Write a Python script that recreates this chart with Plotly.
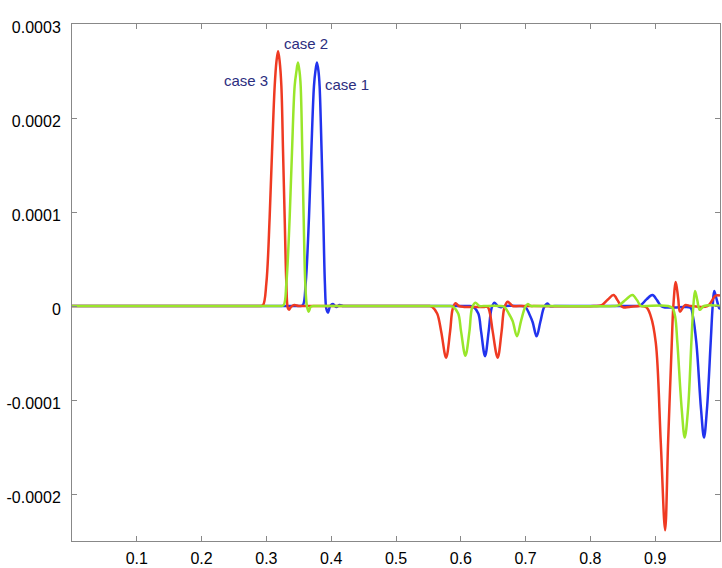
import plotly.graph_objects as go

# values in units of 1e-6
UNIT = 1e-6

case1_x = [0, 0.34, 0.352, 0.3564, 0.3606, 0.3657, 0.3693, 0.3734, 0.3755, 0.378, 0.3805, 0.3821, 0.3852, 0.3878, 0.3903,
           0.3925, 0.3949, 0.3985, 0.4027, 0.4078, 0.413, 0.4185, 0.43,
           0.60, 0.612, 0.6195, 0.627, 0.6313, 0.6374, 0.643, 0.6476, 0.6518, 0.6569, 0.662, 0.668, 0.69,
           0.6995, 0.706, 0.7108, 0.717, 0.7227, 0.7288, 0.7339, 0.7376, 0.745,
           0.86, 0.871, 0.8778, 0.8865, 0.8957, 0.903, 0.909, 0.915, 0.93, 0.945, 0.9547, 0.9582, 0.9635,
           0.9707, 0.9753, 0.9799, 0.9856, 0.9887, 0.9911, 0.9945, 0.9989, 1.0]
case1_y = [0, 0, 0, 1, 24, 94, 164, 234, 249, 259, 249, 234, 164, 94, 24,
           -3, -7, 0, 2, -1, 1, 0, 0,
           0, 0, -1, -8, -27, -53.4, -27, -2, 3.5, 0, -1.2, 0, 0,
           -1, -9, -17, -32.3, -17, -1, 2.7, 0, 0,
           0, 0, 1, 7, 11.6, 6, 0, -1.5, -1.5, -1, -2, -11, -39,
           -109.5, -140, -109.5, -39, 0, 16, 8, -2.5, -3]

case2_x = [0, 0.31, 0.322, 0.3267, 0.3308, 0.3359, 0.3395, 0.3436, 0.3462, 0.3487, 0.3512, 0.3529, 0.3554, 0.3575, 0.36,
           0.3625, 0.3652, 0.3683, 0.373, 0.38,
           0.575, 0.583, 0.5885, 0.596, 0.6004, 0.6071, 0.6133, 0.6174, 0.6225, 0.6287, 0.635,
           0.66, 0.6672, 0.674, 0.68, 0.6867, 0.6929, 0.6995, 0.7031, 0.7083, 0.715,
           0.835, 0.8444, 0.855, 0.8649, 0.872, 0.8778, 0.885, 0.92, 0.9265, 0.9307, 0.9342, 0.9409,
           0.9456, 0.9507, 0.9558, 0.9589, 0.9615, 0.965, 0.9687, 0.9753, 1.0]
case2_y = [0, 0, 0, 1, 24, 94, 164, 234, 249, 259, 249, 234, 164, 94, 24,
           0, -6, -1, 0, 0,
           0, 0, -1, -8, -27, -53, -27, -2, 3.5, 0, 0,
           0, -1, -8, -16, -32.3, -16, -1, 2, 0, 0,
           0, 1, 7, 11.6, 6, 0, 0, 0, -2, -11, -39, -109.5,
           -140, -109.5, -39, 0, 16, 6, -4, 0, 0]

case3_x = [0, 0.28, 0.29, 0.2948, 0.2999, 0.305, 0.3087, 0.3128, 0.3155, 0.318, 0.3205, 0.3231, 0.3257, 0.3282, 0.3308,
           0.333, 0.3349, 0.338, 0.343, 0.35, 0.36,
           0.54, 0.5515, 0.556, 0.5635, 0.5697, 0.5773, 0.5835, 0.5875, 0.592, 0.597, 0.605, 0.635,
           0.6415, 0.645, 0.6492, 0.6569, 0.663, 0.6672, 0.6723, 0.68, 0.69,
           0.805, 0.8176, 0.827, 0.8357, 0.842, 0.8474, 0.8515, 0.86, 0.8855, 0.8932, 0.9009, 0.9086,
           0.9153, 0.9199, 0.9256, 0.928, 0.9317, 0.9355, 0.9384, 0.946, 0.955, 0.9805, 0.9933, 1.0]
case3_y = [0, 0, 0, 1, 24, 94, 164, 234, 260, 271, 260, 234, 164, 94, 24,
           -2, -4, -1, 1, 0, 0,
           0, 0, -1, -8, -27, -55, -27, -3, 3, 0, -1, -1,
           -1, -8, -27, -55, -27, -2, 4.5, 0, 0,
           0, 1, 7, 11.6, 6, 0, -1.5, -1, -1, -11, -39, -145,
           -238.6, -145, -39, 0, 25.6, 8, -6, 1, 0, 0, 11, 11]

x_tick_vals = [0.1, 0.2, 0.3, 0.4, 0.5, 0.6, 0.7, 0.8, 0.9, 1.0]
x_tick_text = ["0.1", "0.2", "0.3", "0.4", "0.5", "0.6", "0.7", "0.8", "0.9", "1"]
y_tick_vals = [-0.0002, -0.0001, 0, 0.0001, 0.0002, 0.0003]
y_tick_text = ["-0.0002", "-0.0001", "0", "0.0001", "0.0002", "0.0003"]

labels = ["case 1", "case 2", "case 3"]
label_x = [0.4248, 0.3606, 0.268]
label_y = [2.361e-4, 2.793e-4, 2.403e-4]

colors = {"case 1": "#2233ee", "case 2": "#99e62a", "case 3": "#ef3a22"}

fig = go.Figure()
series = [("case 1", case1_x, case1_y), ("case 3", case3_x, case3_y), ("case 2", case2_x, case2_y)]
for name, xs, ys in series:
    fig.add_trace(go.Scatter(
        x=xs, y=[v * UNIT for v in ys], mode="lines", name=name,
        line=dict(color=colors[name], width=2.5, shape="spline", smoothing=1.0),
    ))

for t, lx, ly in zip(labels, label_x, label_y):
    fig.add_annotation(x=lx, y=ly, xref="x", yref="y", text=t, showarrow=False,
                       xanchor="center", yanchor="middle",
                       font=dict(size=15, color="#2c2e80", family="Liberation Sans, Arial"))

axis_common = dict(showgrid=False, zeroline=False, showline=True, linecolor="#888888", linewidth=1,
                   mirror="ticks", ticks="inside", ticklen=5, tickcolor="#888888", tickwidth=1,
                   tickfont=dict(size=16, color="black", family="Liberation Sans, Arial"))

fig.update_xaxes(range=[0, 1], tickmode="array", tickvals=x_tick_vals, ticktext=x_tick_text,
                 ticklabelstandoff=3, **axis_common)
fig.update_yaxes(range=[-0.00025, 0.0003], tickmode="array", tickvals=y_tick_vals, ticktext=y_tick_text,
                 ticklabelshift=3, ticklabelstandoff=7, **axis_common)

fig.update_layout(width=722, height=568, margin=dict(l=72, r=1, t=24, b=21, pad=0),
                  plot_bgcolor="white", paper_bgcolor="white", showlegend=False)

fig.write_html("out.html")
